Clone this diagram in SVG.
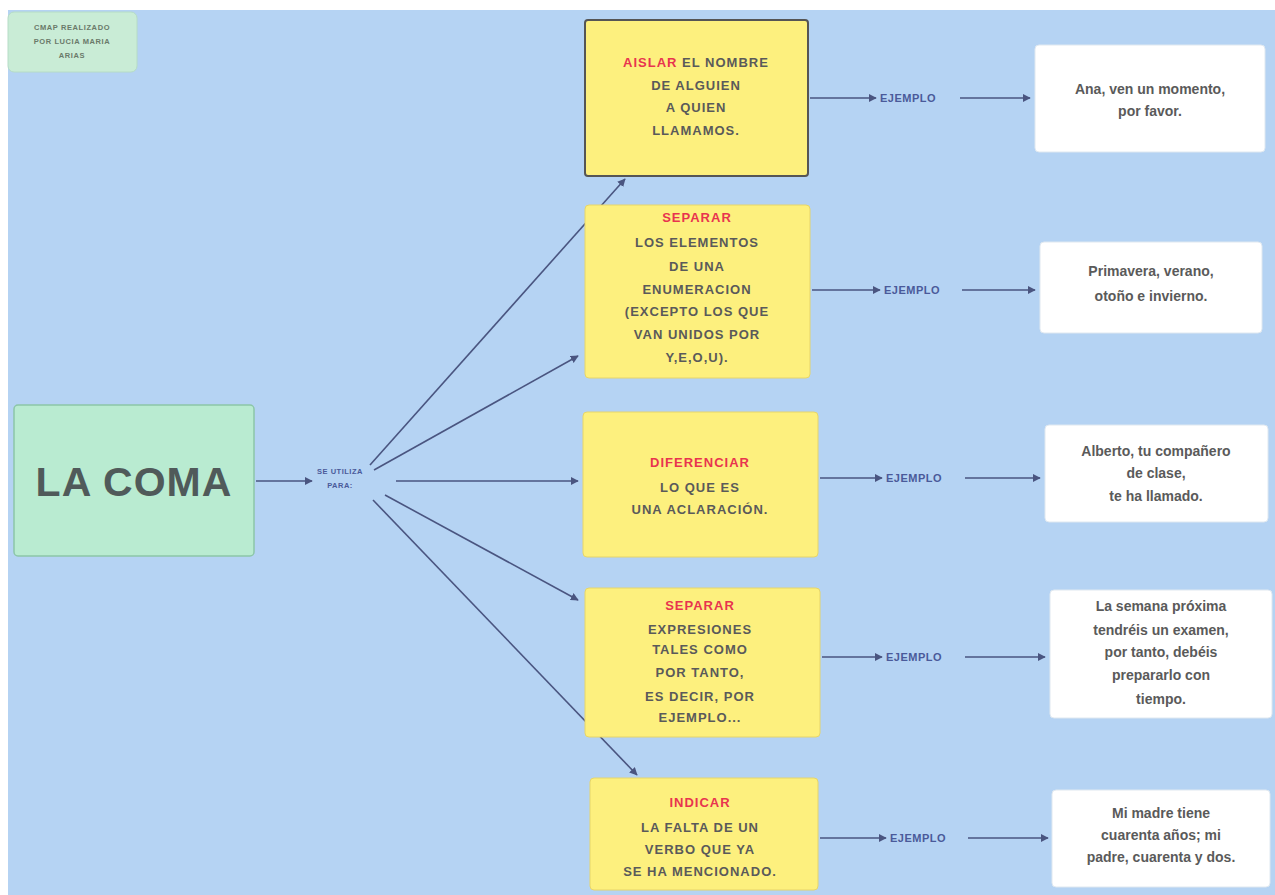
<svg xmlns="http://www.w3.org/2000/svg" width="1275" height="895" viewBox="0 0 1275 895">
<defs>
<marker id="ah" viewBox="0 0 10 10" refX="9" refY="5" markerWidth="8" markerHeight="8" markerUnits="userSpaceOnUse" orient="auto">
<path d="M0,0 L10,5 L0,10 z" fill="#4a5580"/>
</marker>
<style>
.bg{fill:#b5d3f3}
.yel{fill:#fdf07e;stroke:#e6d56a;stroke-width:1}
.wht{fill:#ffffff;stroke:#dfe8f0;stroke-width:1}
.t{font-family:"Liberation Sans",Arial,sans-serif;font-weight:bold;font-size:13px;fill:#5a5a5a;text-anchor:middle;letter-spacing:1px}
.k{fill:#e8344f}
.w{font-family:"Liberation Sans",Arial,sans-serif;font-weight:bold;font-size:14px;fill:#5a5a5a;text-anchor:middle}
.e{font-family:"Liberation Sans",Arial,sans-serif;font-weight:bold;font-size:11px;fill:#4a5a9a;letter-spacing:0.5px}
.c{stroke:#4a5580;stroke-width:1.6;fill:none;marker-end:url(#ah)}
.l{stroke:#4a5580;stroke-width:1.6;fill:none}
</style>
</defs>
<rect x="0" y="0" width="1275" height="895" fill="#ffffff"/>
<rect class="bg" x="8" y="10" width="1267" height="885"/>

<g id="note">
<rect x="8" y="12" width="129" height="60" rx="6" fill="#c9ecd6" stroke="#b6dcc6"/>
<text font-family="Liberation Sans,Arial,sans-serif" font-weight="bold" font-size="7.5" fill="#6a7a6a" text-anchor="middle" letter-spacing="0.6"><tspan x="72" y="30">CMAP REALIZADO</tspan><tspan x="72" y="44">POR LUCIA MARIA</tspan><tspan x="72" y="58">ARIAS</tspan></text>
</g>

<g id="connectors">
<line class="c" x1="256" y1="481" x2="312" y2="481"/>
<line class="c" x1="370" y1="465" x2="625" y2="179"/>
<line class="c" x1="374" y1="470" x2="578" y2="356"/>
<line class="c" x1="396" y1="481" x2="578" y2="481"/>
<line class="c" x1="385" y1="495" x2="578" y2="600"/>
<line class="c" x1="373" y1="500" x2="637" y2="775"/>
<line class="c" x1="810" y1="98" x2="876" y2="98"/><line class="c" x1="960" y1="98" x2="1030" y2="98"/>
<line class="c" x1="812" y1="290" x2="880" y2="290"/><line class="c" x1="962" y1="290" x2="1035" y2="290"/>
<line class="c" x1="820" y1="478" x2="882" y2="478"/><line class="c" x1="965" y1="478" x2="1040" y2="478"/>
<line class="c" x1="822" y1="657" x2="882" y2="657"/><line class="c" x1="965" y1="657" x2="1045" y2="657"/>
<line class="c" x1="820" y1="838" x2="886" y2="838"/><line class="c" x1="968" y1="838" x2="1048" y2="838"/>
<text class="e" x="880" y="102">EJEMPLO</text>
<text class="e" x="884" y="294">EJEMPLO</text>
<text class="e" x="886" y="482">EJEMPLO</text>
<text class="e" x="886" y="661">EJEMPLO</text>
<text class="e" x="890" y="842">EJEMPLO</text>
<text font-family="Liberation Sans,Arial,sans-serif" font-weight="bold" font-size="7.5" fill="#4a5a9a" text-anchor="middle" letter-spacing="0.5"><tspan x="340" y="474">SE UTILIZA</tspan><tspan x="340" y="488">PARA:</tspan></text>
</g>

<g id="la-coma">
<rect x="14" y="405" width="240" height="151" rx="4" fill="#b9ebd1" stroke="#8cc6a8" stroke-width="1.5"/>
<text x="134" y="496" font-family="Liberation Sans,Arial,sans-serif" font-weight="bold" font-size="41" fill="#505a5a" text-anchor="middle" letter-spacing="1">LA COMA</text>
</g>

<g id="aislar">
<rect x="585" y="20" width="223" height="156" rx="3" fill="#fdf07e" stroke="#555" stroke-width="2"/>
<text class="t"><tspan x="696" y="67"><tspan class="k">AISLAR</tspan> EL NOMBRE</tspan><tspan x="696" y="90">DE ALGUIEN</tspan><tspan x="696" y="112">A QUIEN</tspan><tspan x="696" y="135">LLAMAMOS.</tspan></text>
</g>

<g id="separar1">
<rect class="yel" x="585" y="205" width="225" height="173" rx="4"/>
<text class="t"><tspan class="k" x="697" y="222">SEPARAR</tspan><tspan x="697" y="247">LOS ELEMENTOS</tspan><tspan x="697" y="271">DE UNA</tspan><tspan x="697" y="294">ENUMERACION</tspan><tspan x="697" y="316">(EXCEPTO LOS QUE</tspan><tspan x="697" y="339">VAN UNIDOS POR</tspan><tspan x="697" y="362">Y,E,O,U).</tspan></text>
</g>

<g id="diferenciar">
<rect class="yel" x="583" y="412" width="235" height="145" rx="4"/>
<text class="t"><tspan class="k" x="700" y="467">DIFERENCIAR</tspan><tspan x="700" y="492">LO QUE ES</tspan><tspan x="700" y="514">UNA ACLARACIÓN.</tspan></text>
</g>

<g id="separar2">
<rect class="yel" x="585" y="588" width="235" height="149" rx="4"/>
<text class="t"><tspan class="k" x="700" y="610">SEPARAR</tspan><tspan x="700" y="634">EXPRESIONES</tspan><tspan x="700" y="654">TALES COMO</tspan><tspan x="700" y="677">POR TANTO,</tspan><tspan x="700" y="701">ES DECIR, POR</tspan><tspan x="700" y="722">EJEMPLO...</tspan></text>
</g>

<g id="indicar">
<rect class="yel" x="590" y="778" width="228" height="112" rx="4"/>
<text class="t"><tspan class="k" x="700" y="807">INDICAR</tspan><tspan x="700" y="832">LA FALTA DE UN</tspan><tspan x="700" y="854">VERBO QUE YA</tspan><tspan x="700" y="876">SE HA MENCIONADO.</tspan></text>
</g>

<g id="ej1">
<rect class="wht" x="1035" y="45" width="230" height="107" rx="4"/>
<text class="w"><tspan x="1150" y="94">Ana, ven un momento,</tspan><tspan x="1150" y="116">por favor.</tspan></text>
</g>
<g id="ej2">
<rect class="wht" x="1040" y="242" width="222" height="91" rx="4"/>
<text class="w"><tspan x="1151" y="276">Primavera, verano,</tspan><tspan x="1151" y="301">otoño e invierno.</tspan></text>
</g>
<g id="ej3">
<rect class="wht" x="1045" y="425" width="223" height="97" rx="4"/>
<text class="w"><tspan x="1156" y="456">Alberto, tu compañero</tspan><tspan x="1156" y="478">de clase,</tspan><tspan x="1156" y="501">te ha llamado.</tspan></text>
</g>
<g id="ej4">
<rect class="wht" x="1050" y="590" width="222" height="128" rx="4"/>
<text class="w"><tspan x="1161" y="611">La semana próxima</tspan><tspan x="1161" y="635">tendréis un examen,</tspan><tspan x="1161" y="657">por tanto, debéis</tspan><tspan x="1161" y="680">prepararlo  con</tspan><tspan x="1161" y="704">tiempo.</tspan></text>
</g>
<g id="ej5">
<rect class="wht" x="1052" y="790" width="218" height="97" rx="4"/>
<text class="w"><tspan x="1161" y="818">Mi madre tiene</tspan><tspan x="1161" y="840">cuarenta años; mi</tspan><tspan x="1161" y="862">padre, cuarenta y dos.</tspan></text>
</g>
</svg>
